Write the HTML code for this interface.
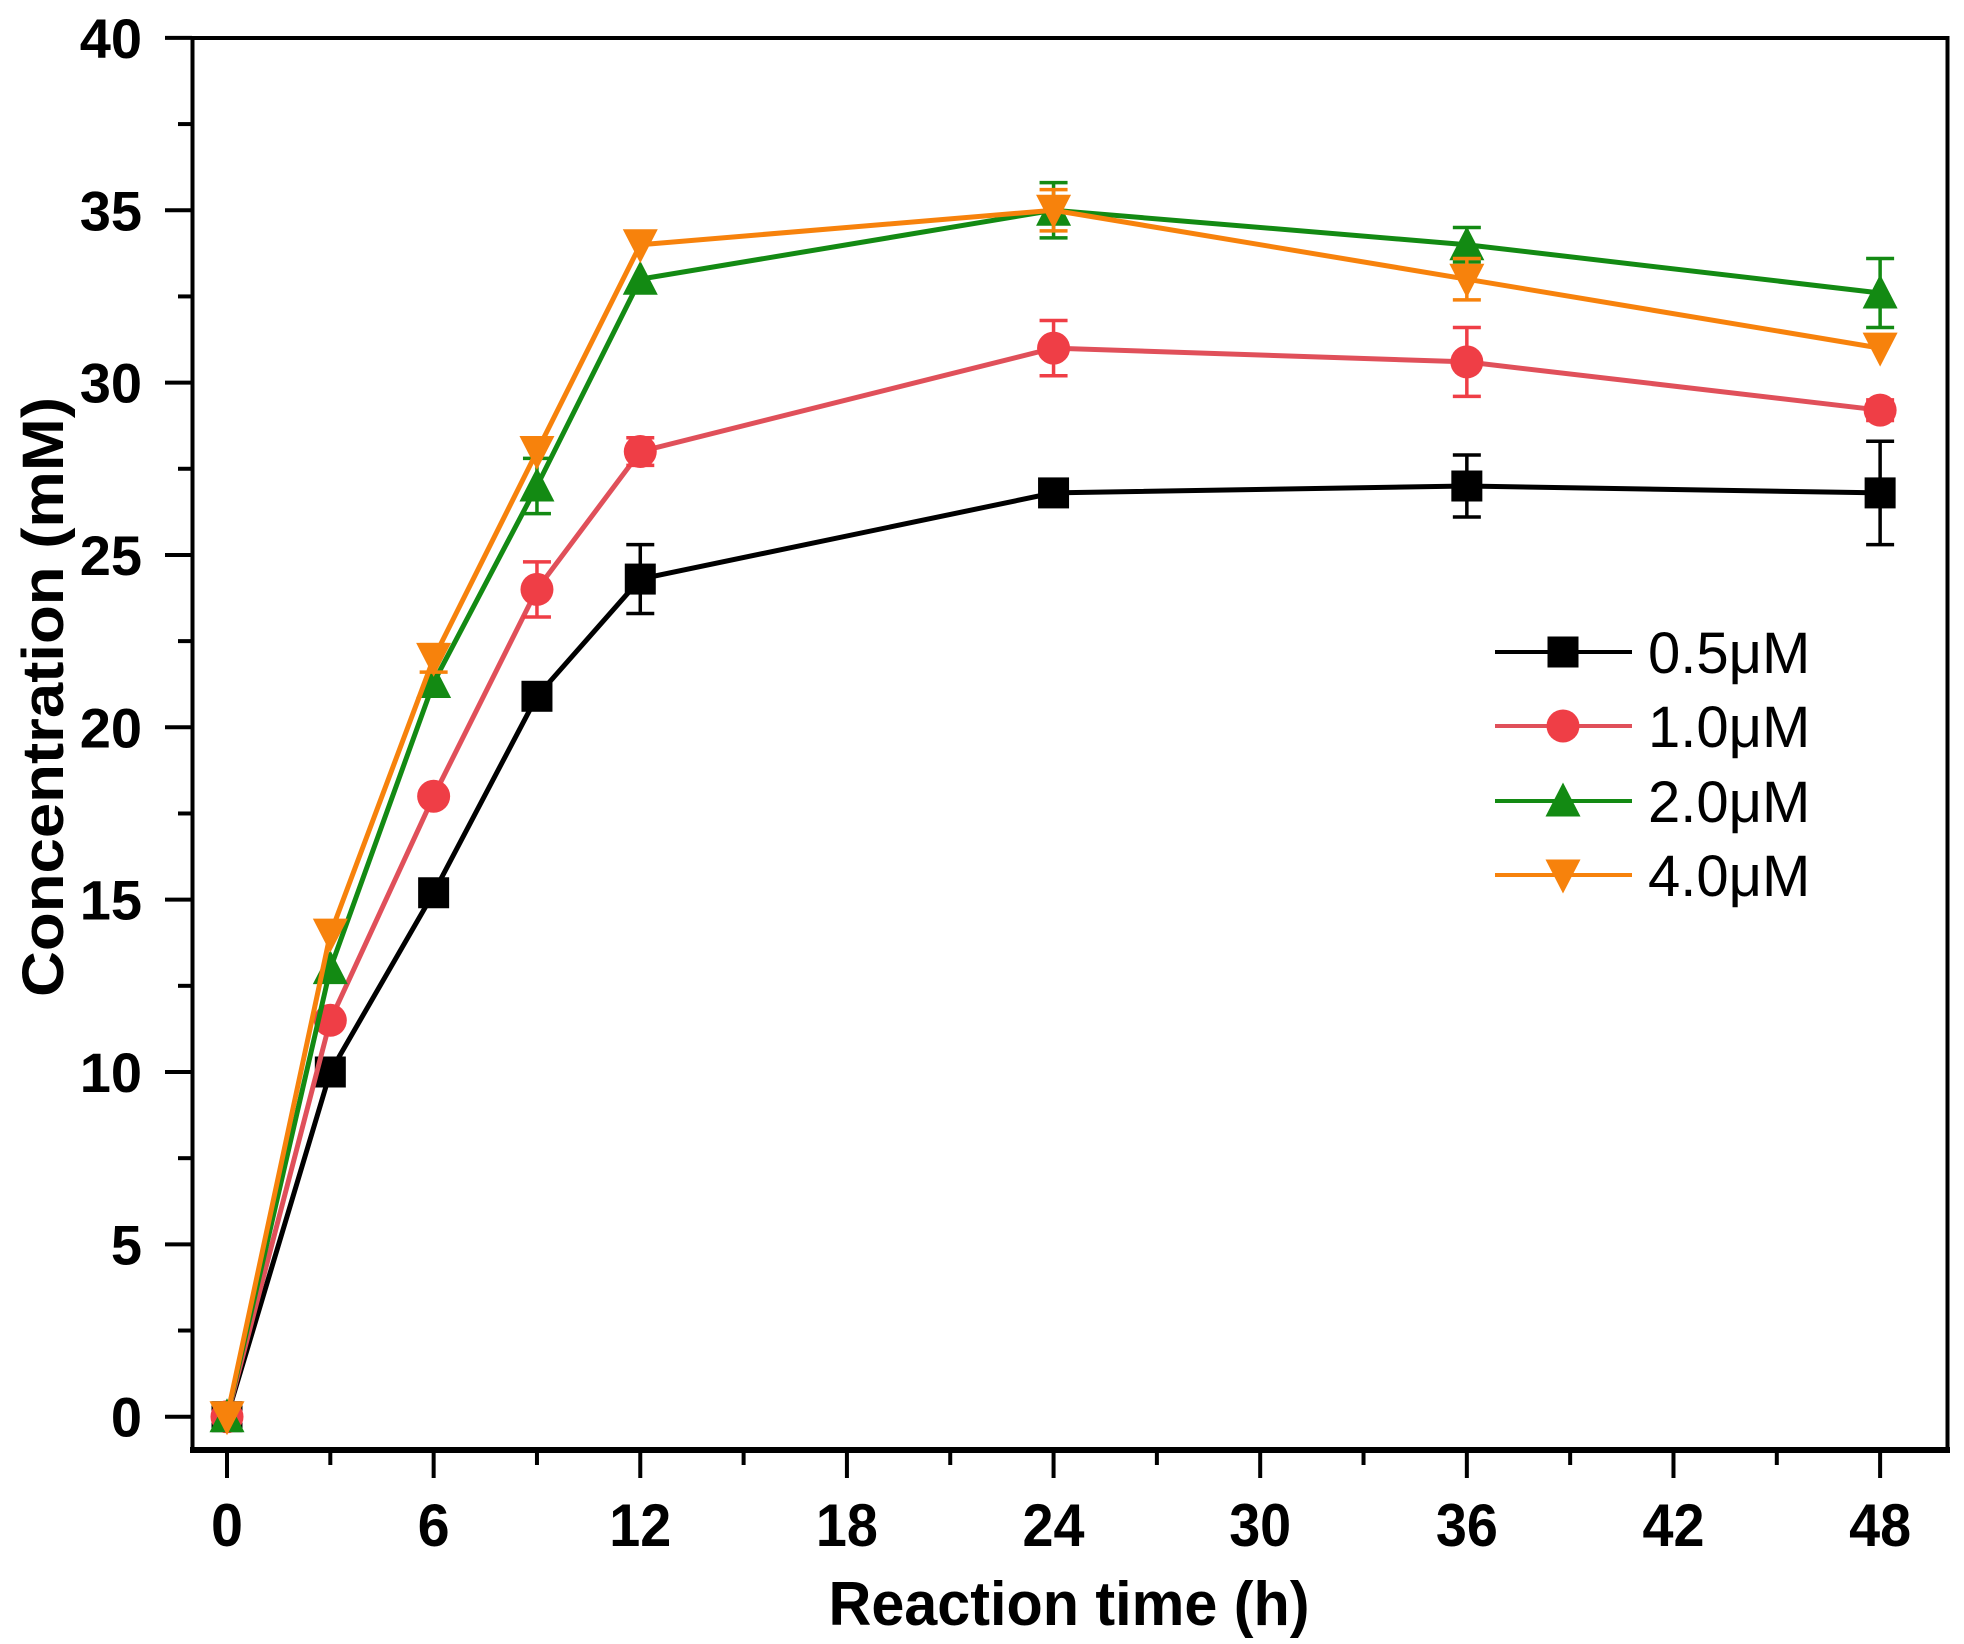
<!DOCTYPE html>
<html><head><meta charset="utf-8"><style>html,body{margin:0;padding:0;background:#fff}svg{display:block}</style></head>
<body>
<svg id="s" width="1964" height="1644" xmlns="http://www.w3.org/2000/svg" font-family="Liberation Sans, Arial, sans-serif">
<rect width="1964" height="1644" fill="#fff"/>
<g id="g"></g>
</svg>
<script>
const X0=227,XS=34.44,Y0=1416.7,YS=34.47;
const px=t=>X0+t*XS, py=v=>Y0-v*YS;
let h='';
h+=`<rect x="192.5" y="38" width="1755" height="1412" fill="none" stroke="#000" stroke-width="4"/>`;
h+=`<line x1="190" y1="1450" x2="1950" y2="1450" stroke="#000" stroke-width="6"/>`;
for(let v=0;v<=40;v+=2.5){const y=py(v);const major=v%5==0;
 h+=`<line x1="${major?165:178}" y1="${y}" x2="192" y2="${y}" stroke="#000" stroke-width="4"/>`;
 if(major)h+=`<text x="142" y="${y+20}" font-size="56" font-weight="bold" text-anchor="end">${v}</text>`;}
for(let t=0;t<=48;t+=3){const x=px(t);const major=t%6==0;
 h+=`<line x1="${x}" y1="1450" x2="${x}" y2="${major?1478:1465}" stroke="#000" stroke-width="4"/>`;
 if(major)h+=`<text x="${x}" y="1546" font-size="60" font-weight="bold" text-anchor="middle" textLength="${t<10?32:62}" lengthAdjust="spacingAndGlyphs">${t}</text>`;}
h+=`<text x="1069" y="1625" font-size="62" font-weight="bold" text-anchor="middle" textLength="481" lengthAdjust="spacingAndGlyphs">Reaction time (h)</text>`;
h+=`<text transform="translate(63,697) rotate(-90)" font-size="58" font-weight="bold" text-anchor="middle" textLength="600" lengthAdjust="spacingAndGlyphs">Concentration (mM)</text>`;
const T=[0,3,6,9,12,24,36,48];
const S=[
 {c:'#000',lc:'#000',m:'sq',v:[0,10,15.2,20.9,24.3,26.8,27,26.8],e:[0,0,0,0,1.0,0,0.9,1.5]},
 {c:'#ef3e46',lc:'#e0505a',m:'ci',v:[0,11.5,18,24,28,31,30.6,29.2],e:[0,0,0,0.8,0.4,0.8,1,0.3]},
 {c:'#138a13',lc:'#138a13',m:'up',v:[0,13,21.3,27,33,35,34,32.6],e:[0,0,0,0.8,0,0.8,0.5,1]},
 {c:'#f7820c',lc:'#f7820c',m:'dn',v:[0,14,22,28,34,35,33,31],e:[0,0,0.4,0,0,0.6,0.6,0]},
];
function mk(m,x,y,c){const r=15.5;
 if(m=='sq')return `<rect x="${x-r}" y="${y-r}" width="${2*r}" height="${2*r}" fill="${c}"/>`;
 if(m=='ci')return `<circle cx="${x}" cy="${y}" r="${r+1}" fill="${c}"/>`;
 if(m=='up')return `<polygon points="${x},${y-r-3} ${x+r+2},${y+r} ${x-r-2},${y+r}" fill="${c}"/>`;
 return `<polygon points="${x},${y+r+3} ${x+r+2},${y-r} ${x-r-2},${y-r}" fill="${c}"/>`;}
for(const s of S){
 h+=`<polyline fill="none" stroke="${s.lc}" stroke-width="5" points="${T.map((t,i)=>px(t)+','+py(s.v[i])).join(' ')}"/>`;
 T.forEach((t,i)=>{if(s.e[i]){const x=px(t),a=py(s.v[i]+s.e[i]),b=py(s.v[i]-s.e[i]);
  h+=`<g stroke="${s.c}" stroke-width="3.5"><line x1="${x}" y1="${a}" x2="${x}" y2="${b}"/><line x1="${x-14}" y1="${a}" x2="${x+14}" y2="${a}"/><line x1="${x-14}" y1="${b}" x2="${x+14}" y2="${b}"/></g>`;}});
 T.forEach((t,i)=>{h+=mk(s.m,px(t),py(s.v[i]),s.c);});
}
const LY=[652,726,801,875],LB=['0.5μM','1.0μM','2.0μM','4.0μM'];
S.forEach((s,i)=>{const y=LY[i];
 h+=`<line x1="1495" y1="${y}" x2="1632" y2="${y}" stroke="${s.lc}" stroke-width="4"/>`+mk(s.m,1563,y,s.c);
 h+=`<text x="1648" y="${y+21}" font-size="58">${LB[i]}</text>`;});
document.getElementById('g').innerHTML=h;
</script>
</body></html>
